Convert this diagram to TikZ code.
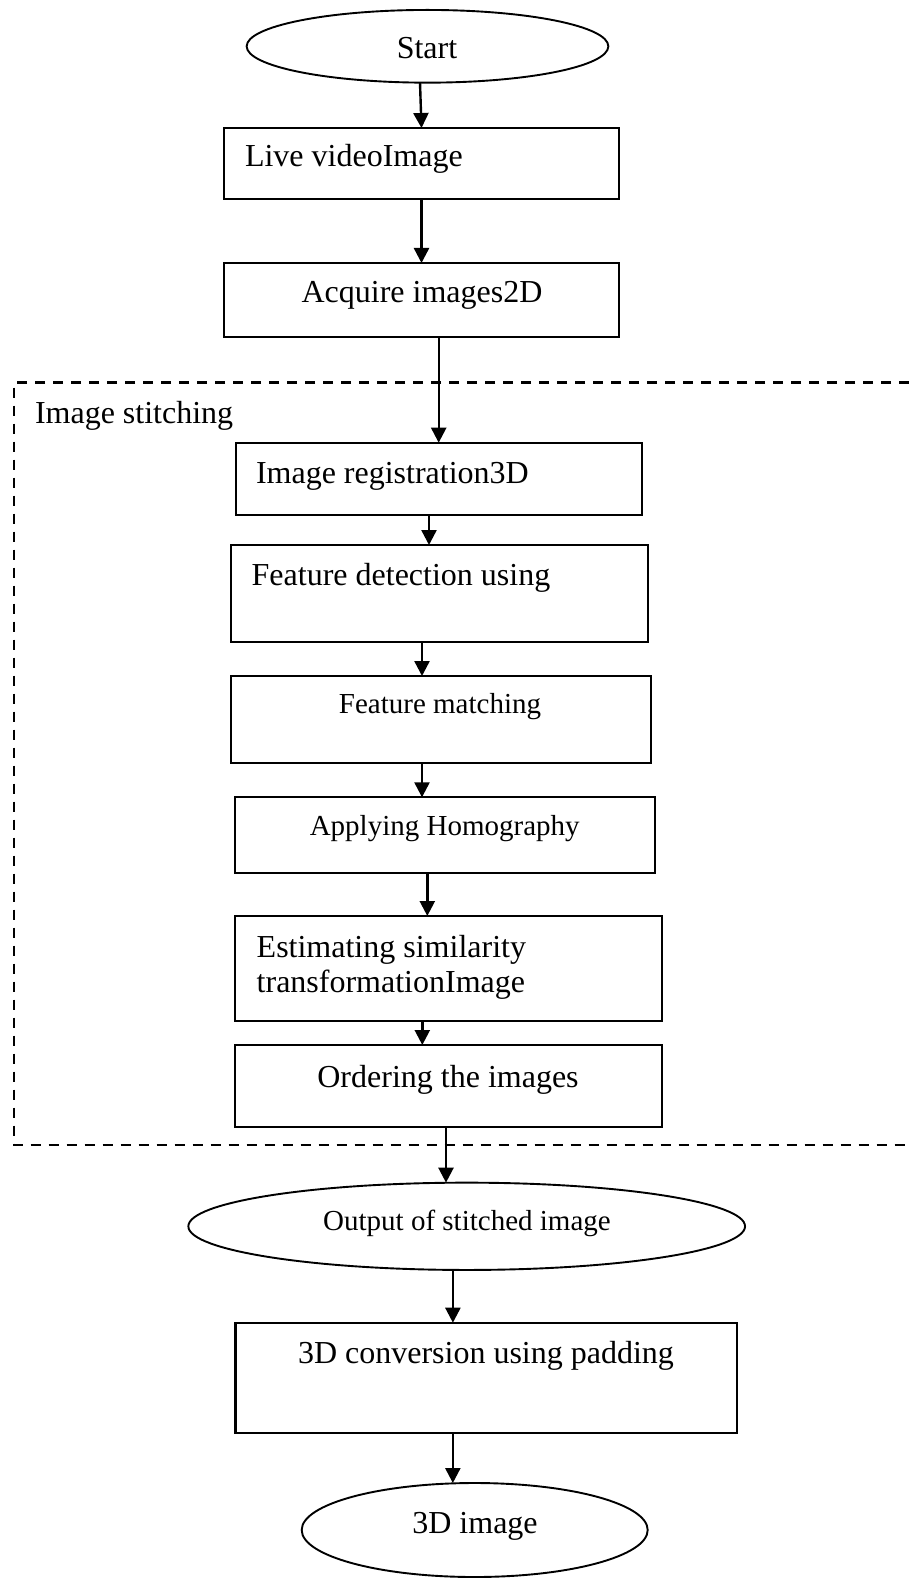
\documentclass[tikz,border=0pt]{standalone}
\usepackage{fontspec}
\setmainfont{Liberation Serif}
\usetikzlibrary{shapes.geometric,arrows.meta}
\begin{document}
\begin{tikzpicture}[x=1pt,y=-1pt,
  box/.style={draw,line width=2.2pt,rectangle,inner sep=0pt,outer sep=0pt},
  oval/.style={draw,line width=1.9pt,ellipse,inner sep=0pt,outer sep=0pt},
  lbl/.style={inner sep=0pt,outer sep=0pt,font=\fontsize{32}{35}\selectfont},
  slbl/.style={inner sep=0pt,outer sep=0pt,font=\fontsize{29}{32}\selectfont},
  arr/.style={line width=2.4pt,-{Triangle[length=15pt,width=15pt]}},
  grp/.style={line width=2.8pt,dash pattern=on 10pt off 8pt}]
\useasboundingbox (0,0) rectangle (909,1578);
% group frame
\coordinate (gTR) at (909,382.7);
\coordinate (gTL) at (14,382.7);
\coordinate (gBL) at (14,1145);
\coordinate (gBR) at (909,1145);
\draw[grp] (gTR) -- (gTL) -- (gBL) -- (gBR);
% shapes
\node[oval,minimum width=361.7pt,minimum height=72.7pt] (start) at (427.5,46.3) {};
\node[box,minimum width=395pt,minimum height=71pt] (live) at (421.5,163.5) {};
\node[box,minimum width=395pt,minimum height=74pt] (acq) at (421.5,300) {};
\node[box,minimum width=406pt,minimum height=72.3pt] (reg) at (438.7,478.85) {};
\node[box,minimum width=417pt,minimum height=96.7pt] (fd) at (439.5,593.35) {};
\node[box,minimum width=420pt,minimum height=86.7pt] (fm) at (440.7,719.35) {};
\node[box,minimum width=419.4pt,minimum height=75.4pt] (ah) at (445,835) {};
\node[box,minimum width=426.4pt,minimum height=104.7pt] (est) at (448.5,968.35) {};
\node[box,minimum width=426.4pt,minimum height=81.7pt] (ord) at (448.5,1085.85) {};
\node[oval,minimum width=556.7pt,minimum height=87.3pt] (out) at (466.7,1226.3) {};
\node[box,minimum width=501.3pt,minimum height=110.6pt] (conv) at (486.15,1378) {};
\node[oval,minimum width=346pt,minimum height=94pt] (img3d) at (474.7,1530) {};
% texts
\node[lbl,anchor=base] (t-start) at (427,58.3) {Start};
\node[lbl,anchor=base west] (t-live) at (245,167) {Live videoImage};
\node[lbl,anchor=base] (t-acq) at (422,302) {Acquire images2D};
\node[lbl,anchor=base west] (t-grp) at (35,423) {Image stitching};
\node[lbl,anchor=base west] (t-reg) at (256,483) {Image registration3D};
\node[lbl,anchor=base west] (t-fd) at (251.7,585) {Feature detection using};
\node[slbl,anchor=base] (t-fm) at (440,713) {Feature matching};
\node[slbl,anchor=base] (t-ah) at (444.7,835) {Applying Homography};
\node[lbl,anchor=north west,align=left] (t-est) at (256.7,934.8) {Estimating similarity\\transformationImage};
\node[lbl,anchor=base] (t-ord) at (448,1087) {Ordering the images};
\node[slbl,anchor=base] (t-out) at (467,1230) {Output of stitched image};
\node[lbl,anchor=base] (t-conv) at (486,1363.3) {3D conversion using padding};
\node[lbl,anchor=base] (t-3d) at (475,1533.3) {3D image};
% connectors
\draw[arr] ([xshift=-7.5pt]start.south) -- (live.north);
\draw[arr] (live.south) -- (acq.north);
\coordinate (a3) at ([xshift=17.2pt]acq.south);
\draw[arr] (a3) -- (a3 |- reg.north);
\coordinate (a4) at ([xshift=-9.7pt]reg.south);
\draw[arr] (a4) -- (a4 |- fd.north);
\coordinate (a5) at ([xshift=-17.5pt]fd.south);
\draw[arr] (a5) -- (a5 |- fm.north);
\coordinate (a6) at ([xshift=-18.7pt]fm.south);
\draw[arr] (a6) -- (a6 |- ah.north);
\coordinate (a7) at ([xshift=-17.7pt]ah.south);
\draw[arr] (a7) -- (a7 |- est.north);
\coordinate (a8) at ([xshift=-26.2pt]est.south);
\draw[arr] (a8) -- (a8 |- ord.north);
\coordinate (a9) at ([xshift=-2.5pt]ord.south);
\draw[arr] (a9) -- (a9 |- out.north);
\coordinate (a10) at ([xshift=-13.8pt]out.south);
\draw[arr] (a10) -- (a10 |- conv.north);
\coordinate (a11) at ([xshift=-33.3pt]conv.south);
\draw[arr] (a11) -- (a11 |- img3d.north);
\end{tikzpicture}
\end{document}
